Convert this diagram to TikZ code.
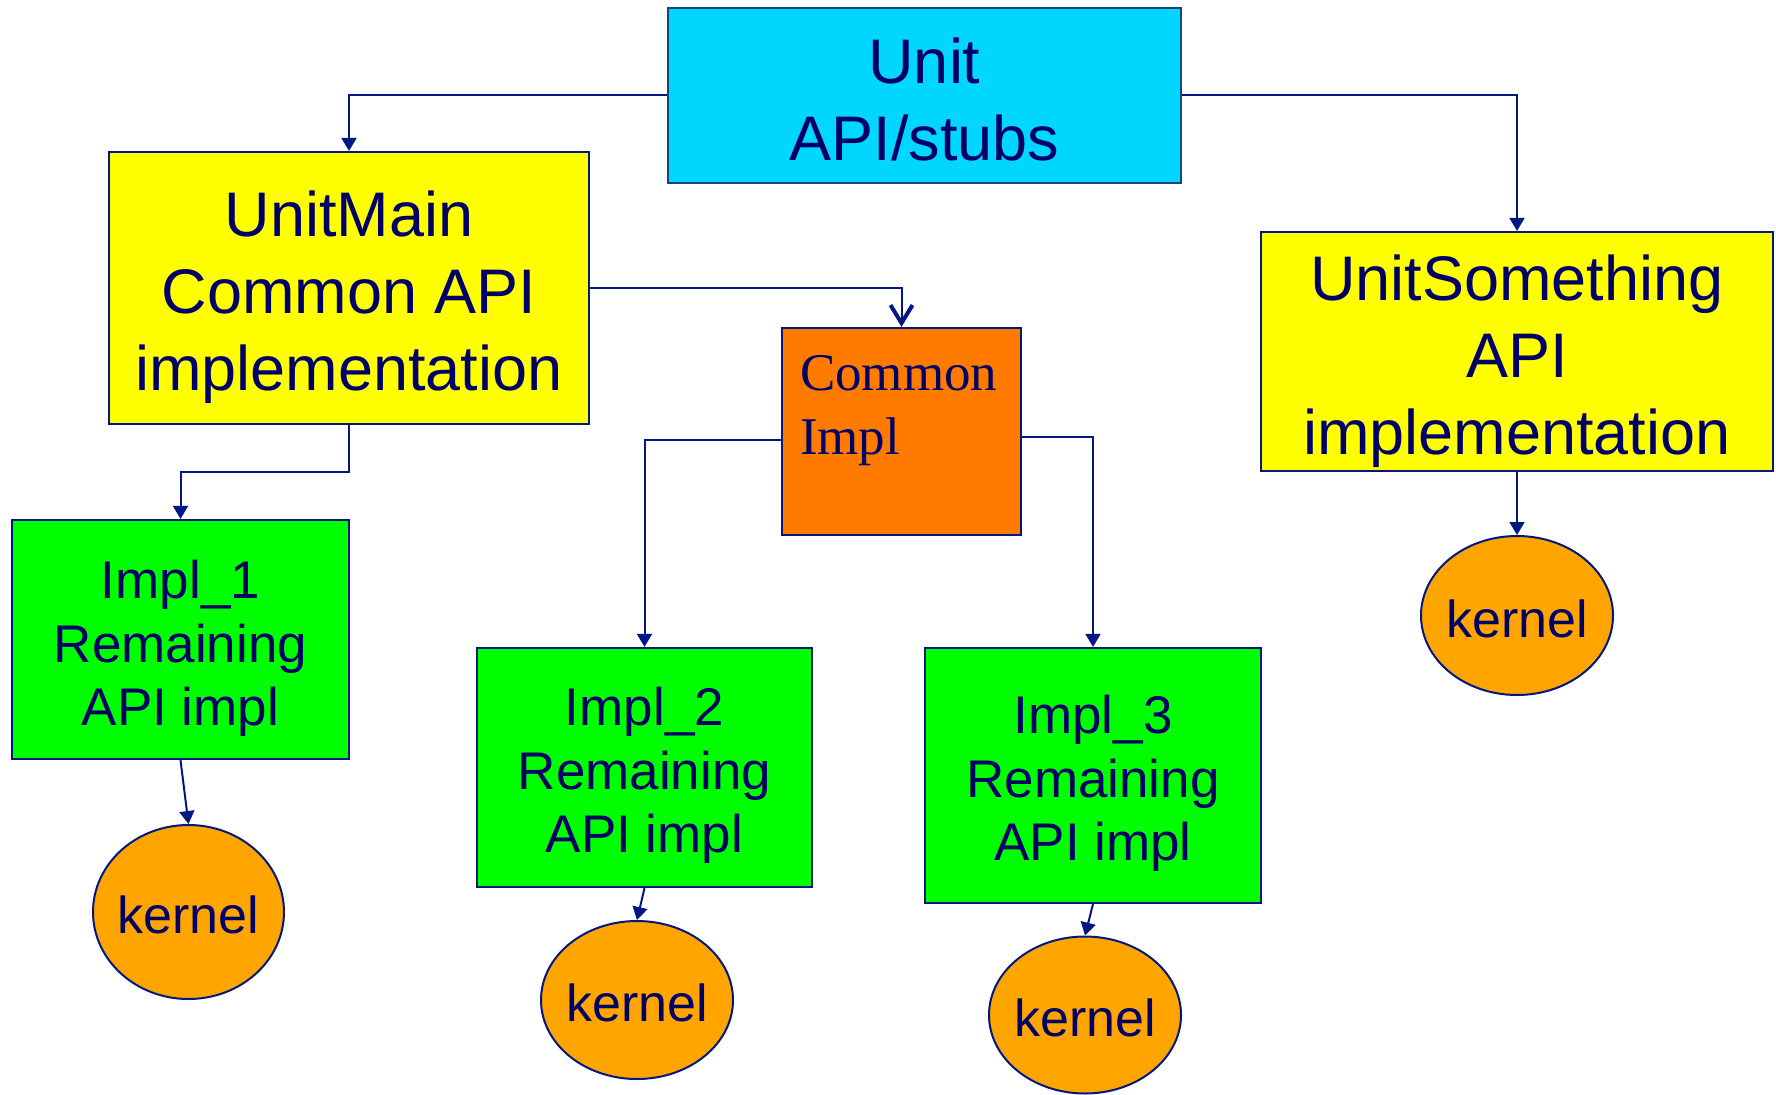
\documentclass[tikz,border=0pt]{standalone}
\usepackage{fontspec}
\setmainfont{Liberation Sans}
\newfontfamily\timesfont{Liberation Serif}
\usetikzlibrary{arrows.meta,calc,shapes.geometric}
\definecolor{txtnavy}{RGB}{0,0,102}
\definecolor{linenavy}{RGB}{0,24,128}
\definecolor{unitborder}{RGB}{20,70,125}
\definecolor{ccyan}{RGB}{0,214,255}
\definecolor{cyellow}{RGB}{255,255,0}
\definecolor{cgreen}{RGB}{0,255,0}
\definecolor{corange}{RGB}{255,123,0}
\definecolor{ckernel}{RGB}{255,165,0}
\newcommand{\mlines}[2]{\raisebox{-#1pt}[\height][\depth]{\begin{tabular}{@{}c@{}}#2\end{tabular}}}
\newcommand{\kerntext}{\raisebox{-3pt}[\height][\depth]{\makebox[0pt]{kernel}}}
\tikzset{
  box/.style={draw=linenavy, line width=2.2pt, rectangle, inner sep=0pt, text=txtnavy},
  bigtext/.style={font=\fontsize{63}{77}\selectfont},
  midtext/.style={font=\fontsize{53}{63.5}\selectfont},
  kern/.style={draw=linenavy, line width=2pt, ellipse, fill=ckernel, inner sep=0pt, text=txtnavy, font=\fontsize{52}{62}\selectfont},
  conn/.style={draw=linenavy, line width=2pt, -{Triangle[length=13pt,width=15pt]}},
  openconn/.style={draw=linenavy, line width=2pt, -{Straight Barb[length=18pt,width=22pt,line width=4pt]}}
}
\begin{document}
\begin{tikzpicture}[x=1pt,y=-1pt]
\useasboundingbox (0,0) rectangle (1776,1094);
\fill[white] (0,0) rectangle (1776,1094);

\node[box, bigtext, draw=unitborder, fill=ccyan, minimum width=513, minimum height=175] (unit) at (924.5,95.5) {\mlines{11}{Unit\\API/stubs}};
\node[box, bigtext, fill=cyellow, minimum width=480, minimum height=272] (umain) at (349,288) {\mlines{10}{UnitMain\\Common API\\implementation}};
\node[box, bigtext, fill=cyellow, minimum width=512, minimum height=239] (usome) at (1517,351.5) {\mlines{11}{UnitSomething\\API\\implementation}};
\node[box, fill=corange, minimum width=239, minimum height=207] (common) at (901.5,431.5) {};
\node[anchor=north west, inner sep=0pt, align=left, text=txtnavy, font=\timesfont\fontsize{53}{64}\selectfont] (commontext) at ($(common.north west)+(19,28)$) {Common\\Impl};

\node[box, midtext, fill=cgreen, minimum width=337, minimum height=239] (impl1) at (180.5,639.5) {\mlines{10}{Impl\_1\\Remaining\\API impl}};
\node[box, midtext, fill=cgreen, minimum width=335, minimum height=239] (impl2) at (644.5,767.5) {\mlines{9}{Impl\_2\\Remaining\\API impl}};
\node[box, midtext, fill=cgreen, minimum width=336, minimum height=255] (impl3) at (1093,775.5) {\mlines{9}{Impl\_3\\Remaining\\API impl}};

\node[kern, minimum width=191, minimum height=174] (k1) at (188.5,912) {\kerntext};
\node[kern, minimum width=192, minimum height=158] (k2) at (637,1000) {\kerntext};
\node[kern, minimum width=192, minimum height=157] (k3) at (1085,1015) {\kerntext};
\node[kern, minimum width=192, minimum height=159] (k4) at (1517,615.5) {\kerntext};

\draw[conn] (unit.west) -| (umain.north);
\draw[conn] (unit.east) -| (usome.north);
\draw[openconn] (umain.east) -| (common.north);
\draw[conn] (umain.south) -- ++(0,47) -| (impl1.north);
\draw[conn] ($(common.west)+(0,8)$) -| (impl2.north);
\draw[conn] ($(common.east)+(0,5)$) -| (impl3.north);
\draw[conn] (impl1.south) -- (k1.north);
\draw[conn] (impl2.south) -- (k2.north);
\draw[conn] (impl3.south) -- (k3.north);
\draw[conn] (usome.south) -- (k4.north);
\end{tikzpicture}
\end{document}
